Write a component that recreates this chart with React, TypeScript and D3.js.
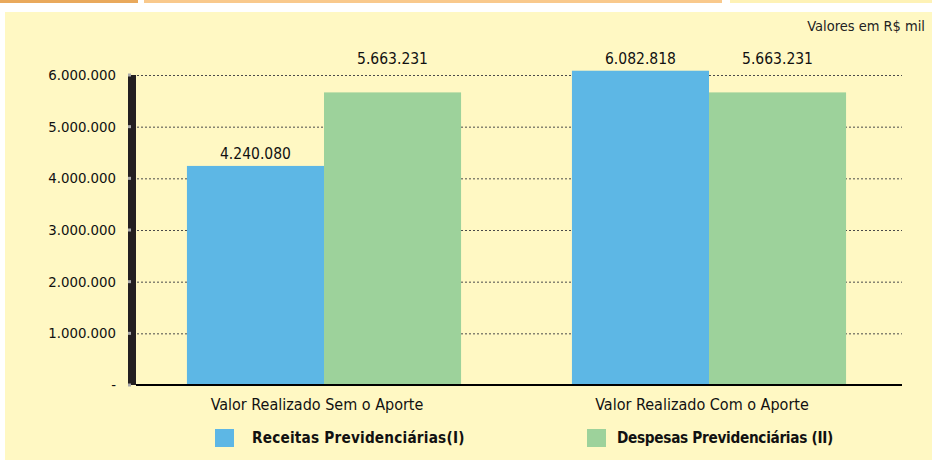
import React from "react";
import * as d3 from "d3";

const categories = ["Valor Realizado Sem o Aporte", "Valor Realizado Com o Aporte"];
const seriesNames = ["Receitas Previdenciárias(I)", "Despesas Previdenciárias (II)"];
const receitas = [4240080, 6082818];
const despesas = [5663231, 5663231];
const yTicks = [0, 1000000, 2000000, 3000000, 4000000, 5000000, 6000000];
const unitNote = "Valores em R$ mil";

const colors = ["#5DB7E5", "#9DD29B"];
const BG = "#FFF8C3";
const FONT = "'DejaVu Sans Condensed', 'Liberation Sans Narrow', sans-serif";

const ptBR = d3.formatLocale({ decimal: ",", thousands: ".", grouping: [3], currency: ["R$", ""] });
const fmt = ptBR.format(",d");

export default function App() {
  const W = 932, H = 460;
  const x = d3.scaleBand<string>().domain(categories).range([131.5, 901.5]).paddingInner(0.288).paddingOuter(0.144);
  const xs = d3.scaleBand<string>().domain(seriesNames).range([0, x.bandwidth()]);
  const y = d3.scaleLinear().domain([0, 6000000]).range([385, 75]);
  const series = [receitas, despesas];
  const maxV = d3.max([...receitas, ...despesas]) as number;
  const legendX = [[215, 252], [587, 617]];
  const legendSpacing = [0.2, -0.3];

  return (
    <svg width={W} height={H} style={{ position: "absolute", left: 0, top: 0 }} fontFamily={FONT}>
      <rect x={0} y={0} width={W} height={H} fill="#ffffff" />
      <rect x={0} y={0} width={138} height={3} fill="#E9A95C" />
      <rect x={144} y={0} width={578} height={3} fill="#F9C98C" />
      <rect x={730} y={0} width={202} height={3} fill="#FEF2B6" />
      <rect x={5} y={12} width={W - 5} height={H - 12} fill={BG} />

      <text x={925} y={31} textAnchor="end" fontSize={14.5} fill="#222">{unitNote}</text>

      {yTicks.filter(t => t > 0).map(t => (
        <line key={"g" + t} x1={137} x2={902} y1={y(t) + 0.5} y2={y(t) + 0.5} stroke="#4a4a4a" strokeDasharray="2,2" strokeWidth={1} />
      ))}

      {categories.map((c, ci) =>
        series.map((s, si) => (
          <rect key={c + si} x={(x(c) as number) + (xs(seriesNames[si]) as number)} y={y(s[ci])}
            width={xs.bandwidth()} height={385 - y(s[ci])} fill={colors[si]} />
        ))
      )}

      {categories.map((c, ci) =>
        series.map((s, si) => {
          const v = s[ci];
          const top = v >= 5000000 ? y(maxV) : y(v);
          return (
            <text key={"l" + c + si} x={(x(c) as number) + (xs(seriesNames[si]) as number) + xs.bandwidth() / 2}
              y={top - 7} textAnchor="middle" fontSize={15.5} fill="#111">{fmt(v)}</text>
          );
        })
      )}

      <rect x={128} y={75} width={8} height={310} fill="#231F20" />
      {yTicks.map(t => (
        <rect key={"m" + t} x={128} y={y(t) - 1.5} width={3} height={3} fill="#AAAAAA" />
      ))}
      <line x1={136} x2={902} y1={385} y2={385} stroke="#000" strokeWidth={2} />

      {yTicks.map(t => (
        <text key={"t" + t} x={116} y={y(t) + 5} textAnchor="end" fontSize={14.8} fill="#111">{t === 0 ? "-" : fmt(t)}</text>
      ))}

      {categories.map(c => (
        <text key={"c" + c} x={(x(c) as number) + x.bandwidth() / 2 - 7} y={410} textAnchor="middle" fontSize={16} fill="#111">{c}</text>
      ))}

      {seriesNames.map((n, i) => (
        <g key={"lg" + n}>
          <rect x={legendX[i][0]} y={429} width={19} height={18} fill={colors[i]} />
          <text x={legendX[i][1]} y={443} fontSize={15.2} letterSpacing={legendSpacing[i]} fontWeight="bold" fill="#111">{n}</text>
        </g>
      ))}
    </svg>
  );
}
